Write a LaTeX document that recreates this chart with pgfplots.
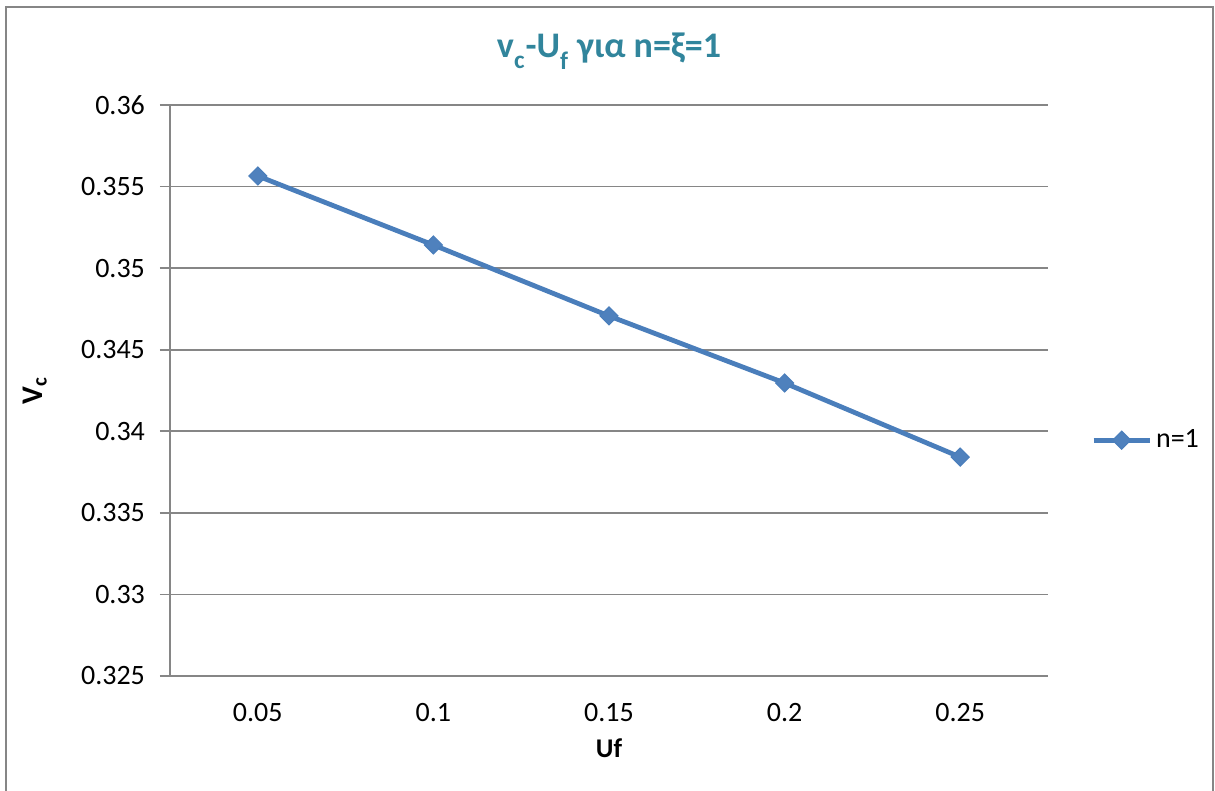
\documentclass[border=0pt]{standalone}
\usepackage{pgfplots}
\pgfplotsset{compat=1.18}
\usepackage{fontspec}
\setmainfont{Carlito}
\definecolor{lineblue}{RGB}{74,126,187}
\definecolor{markblue}{RGB}{79,129,189}
\definecolor{titleteal}{RGB}{49,133,156}
\definecolor{gridgray}{RGB}{134,134,134}
\begin{document}
\begin{tikzpicture}[x=1pt,y=1pt]
\useasboundingbox (-85,-57.5) rectangle (522.5,338);
\draw[gridgray, line width=1.2pt] (-82,-70) -- (-82,334.5) -- (521.5,334.5) -- (521.5,-70);
\begin{axis}[
  at={(0,0)}, anchor=origin,
  scale only axis, width=439pt, height=285.5pt,
  xmin=0.5, xmax=5.5, ymin=0.325, ymax=0.36,
  axis x line*=bottom, axis y line*=left,
  axis line style={-, draw=gridgray, line width=0.8pt},
  xtick={1,2,3,4,5},
  xticklabels={0.05,0.1,0.15,0.2,0.25},
  x tick style={draw=none},
  extra x ticks={0.5,1.5,2.5,3.5,4.5,5.5},
  extra x tick labels={},
  extra x tick style={tick align=outside, major tick length=5pt, tick style={draw=gridgray, line width=0.8pt}},
  ytick={0.325,0.33,0.335,0.34,0.345,0.35,0.355,0.36},
  y tick style={draw=gridgray, line width=0.8pt},
  tick align=outside, major tick length=5pt,
  ymajorgrids,
  grid style={draw=gridgray, line width=0.8pt},
  /pgf/number format/assume math mode=true,
  yticklabel style={/pgf/number format/fixed, /pgf/number format/precision=3, font=\fontsize{14}{16}\selectfont, xshift=-4pt},
  xticklabel style={font=\fontsize{14}{16}\selectfont, yshift=-5pt},
  xlabel={\textbf{Uf}},
  ylabel={\textbf{V\textsubscript{c}}},
  xlabel style={font=\fontsize{13.5}{16}\selectfont, at={(axis description cs:0.5,0)}, anchor=center, yshift=-36pt},
  ylabel style={font=\fontsize{15}{17}\selectfont, at={(axis description cs:-0.154,0.5)}, anchor=center},
  title={\textbf{v\raisebox{-0.35ex}{\textsubscript{c}}-U\raisebox{-0.35ex}{\textsubscript{f}} για n=ξ=1}},
  title style={font=\fontsize{18}{21}\selectfont, text=titleteal, at={(axis description cs:0.5,1)}, anchor=center, yshift=21pt},
  legend style={at={(axis description cs:1.042,0.413)}, anchor=west, draw=none, fill=none, font=\fontsize{14}{16}\selectfont},
  legend image code/.code={\draw[#1, mark repeat=2, mark phase=2] plot coordinates {(0pt,0pt) (14pt,0pt) (28pt,0pt)};},
]
\addplot[color=lineblue, line width=2.4pt, mark=square*, mark size=3.2pt,
  mark options={rotate=45, fill=markblue, draw=lineblue, line width=0.5pt}]
  coordinates {(1,0.35565) (2,0.35142) (3,0.34707) (4,0.34296) (5,0.33842)};
\addlegendentry{n=1}
\end{axis}
\end{tikzpicture}
\end{document}
